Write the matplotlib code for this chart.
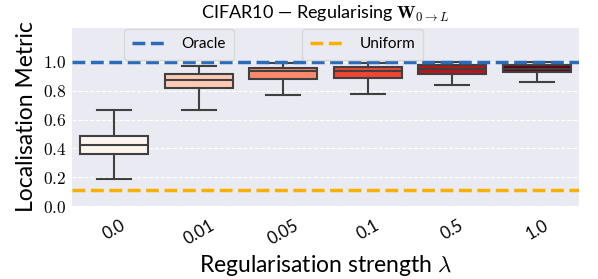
import numpy as np
import matplotlib
matplotlib.use("Agg")
import matplotlib.pyplot as plt
from matplotlib.ticker import FuncFormatter

# --- data ---
lambdas = ['0.0', '0.01', '0.05', '0.1', '0.5', '1.0']
whisker_lo = [0.19, 0.667, 0.77, 0.779, 0.836, 0.861]
q1 = [0.364, 0.816, 0.881, 0.886, 0.918, 0.927]
median = [0.425, 0.877, 0.934, 0.934, 0.950, 0.953]
q3 = [0.487, 0.918, 0.957, 0.962, 0.980, 0.975]
whisker_hi = [0.667, 0.97, 0.99, 0.99, 1.0, 1.0]
oracle = 1.0
uniform = 0.113

# style, roughly seaborn darkgrid
plt.rcParams['font.family'] = ['Lato', 'DejaVu Sans']
plt.rcParams['mathtext.fontset'] = 'cm'
plt.rcParams['axes.facecolor'] = '#eaeaf2'
plt.rcParams['axes.edgecolor'] = 'white'

edge = '#404040'
colors = plt.cm.Reds(np.linspace(0, 1, len(lambdas)))

fig, ax = plt.subplots(figsize=(5.98, 2.79), dpi=100)
fig.subplots_adjust(left=0.1204, right=0.9682, top=0.9014, bottom=0.2616)

stats = []
for i in range(len(lambdas)):
    stats.append({'whislo': whisker_lo[i], 'q1': q1[i], 'med': median[i],
                  'q3': q3[i], 'whishi': whisker_hi[i], 'fliers': []})

x = np.arange(len(lambdas))
bp = ax.bxp(stats, positions=x, widths=0.8, patch_artist=True, showfliers=False,
            boxprops=dict(edgecolor=edge, linewidth=1.5),
            medianprops=dict(color=edge, linewidth=1.5),
            whiskerprops=dict(color=edge, linewidth=1.5),
            capprops=dict(color=edge, linewidth=1.5))
for patch, c in zip(bp['boxes'], colors):
    patch.set_facecolor(c)

l1 = ax.axhline(oracle, color='#2b6cb8', ls='--', lw=2.5, label='Oracle')
l2 = ax.axhline(uniform, color='#f9b000', ls='--', lw=2.5, label='Uniform')

ax.set_xlim(-0.5, len(lambdas) - 0.5)
ax.set_ylim(0.0, 1.238)
ax.set_yticks([0.0, 0.2, 0.4, 0.6, 0.8, 1.0])
ax.yaxis.set_major_formatter(FuncFormatter(lambda v, p: r'$%.1f$' % v))
ax.tick_params(axis='y', labelsize=12.5, length=0, pad=4)
ax.set_xticks(x)
ax.set_xticklabels(lambdas, rotation=30, fontsize=12)
ax.tick_params(axis='x', length=0, pad=8)

ax.grid(axis='y', color='white', ls='--', lw=0.8)
ax.set_axisbelow(True)
for s in ax.spines.values():
    s.set_visible(False)

ax.set_title(r'CIFAR10 — Regularising $\mathbf{W}_{0\to L}$', fontsize=13)
ax.set_xlabel(r'Regularisation strength $\lambda$', fontsize=16.5)
ax.set_ylabel('Localisation Metric', fontsize=16.5)

leg_kw = dict(loc='upper left', fontsize=11, handlelength=2.2, handletextpad=1.0,
              borderaxespad=0, borderpad=0.55, framealpha=1, edgecolor='#d8d8d8')
leg1 = ax.legend(handles=[l1], bbox_to_anchor=(0.1026, 0.992), **leg_kw)
ax.add_artist(leg1)
ax.legend(handles=[l2], bbox_to_anchor=(0.4536, 0.992), **leg_kw)

fig.savefig('out.png', dpi=100)
